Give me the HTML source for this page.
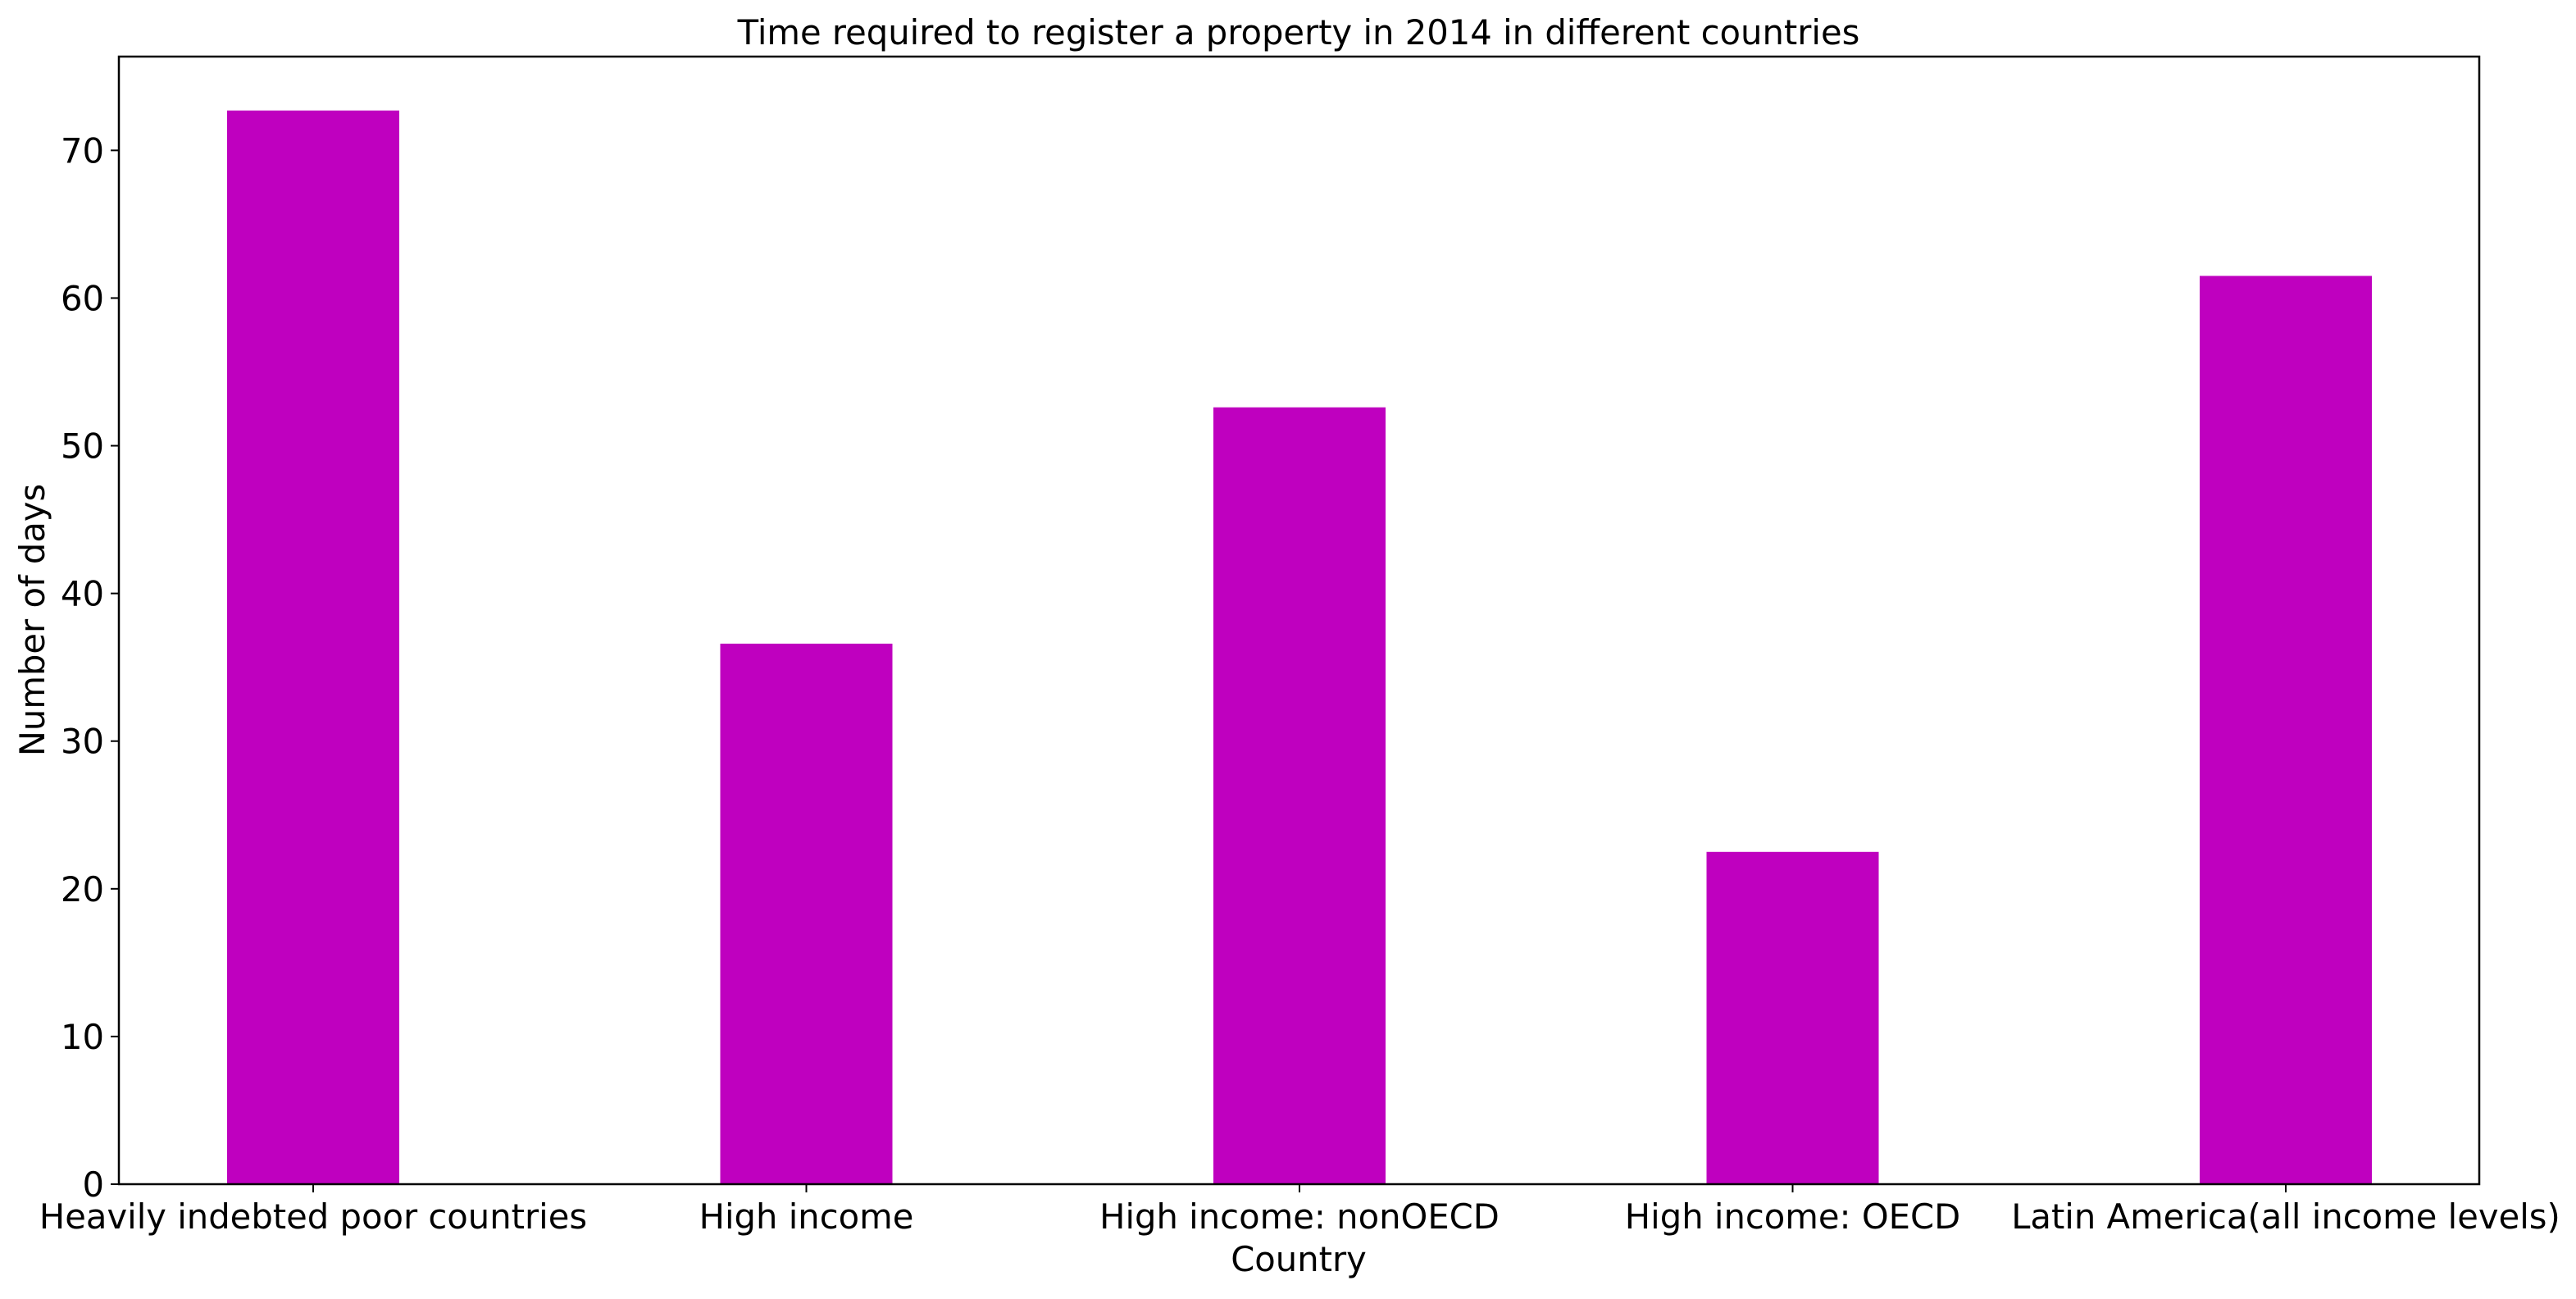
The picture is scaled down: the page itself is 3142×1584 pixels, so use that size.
<!DOCTYPE html>
<html><head><meta charset="utf-8"><style>
html,body{margin:0;padding:0;background:#fff;}
svg text{font-family:"DejaVu Sans","Liberation Sans",sans-serif;fill:#000;}
</style></head><body>
<svg id="chart" width="3142" height="1579" xmlns="http://www.w3.org/2000/svg">
<rect width="3142" height="1579" fill="#fff"/>
<g id="bars"></g><g id="yticks"></g><g id="xticks"></g>
<rect x="145" y="69" width="2879" height="1375" fill="none" stroke="#000" stroke-width="2.5"/>
<text x="1584" y="54" font-size="41.7" text-anchor="middle">Time required to register a property in 2014 in different countries</text>
<text x="1584" y="1550" font-size="41.7" text-anchor="middle">Country</text>
<text transform="translate(54,756) rotate(-90)" font-size="41.7" text-anchor="middle">Number of days</text>
</svg>
<script>
const categories=["Heavily indebted poor countries","High income","High income: nonOECD","High income: OECD","Latin America(all income levels)"];
const values=[72.7,36.6,52.6,22.5,61.5];
const yTicks=[0,10,20,30,40,50,60,70];
const NS="http://www.w3.org/2000/svg";
const plotLeft=145,plotBottom=1444,plotTop=69,yMax=76.35;
function yScale(v){return plotBottom-(v/yMax)*(plotBottom-plotTop);}
function xScale(i){return 382+i*601.5;}
const barW=210;
const bars=document.getElementById('bars');
values.forEach((v,i)=>{
  const r=document.createElementNS(NS,'rect');
  r.setAttribute('x',xScale(i)-barW/2);
  r.setAttribute('y',yScale(v));
  r.setAttribute('width',barW);
  r.setAttribute('height',plotBottom-yScale(v));
  r.setAttribute('fill','#bf00bf');
  
  
  bars.appendChild(r);
});
const yt=document.getElementById('yticks');
yTicks.forEach(t=>{
  const y=yScale(t);
  const l=document.createElementNS(NS,'line');
  l.setAttribute('x1',plotLeft-10);l.setAttribute('x2',plotLeft);
  l.setAttribute('y1',y);l.setAttribute('y2',y);
  l.setAttribute('stroke','#000');l.setAttribute('stroke-width','2');
  
  
  yt.appendChild(l);
  const tx=document.createElementNS(NS,'text');
  tx.setAttribute('x',plotLeft-18);tx.setAttribute('y',y+15);
  tx.setAttribute('font-size','41.7');tx.setAttribute('text-anchor','end');
  tx.textContent=t;
  
  
  yt.appendChild(tx);
});
const xt=document.getElementById('xticks');
categories.forEach((c,i)=>{
  const x=xScale(i);
  const l=document.createElementNS(NS,'line');
  l.setAttribute('x1',x);l.setAttribute('x2',x);
  l.setAttribute('y1',plotBottom);l.setAttribute('y2',plotBottom+10);
  l.setAttribute('stroke','#000');l.setAttribute('stroke-width','2');
  
  
  xt.appendChild(l);
  const tx=document.createElementNS(NS,'text');
  tx.setAttribute('x',x);tx.setAttribute('y',1498);
  tx.setAttribute('font-size','41.7');tx.setAttribute('text-anchor','middle');
  tx.textContent=c;
  
  
  xt.appendChild(tx);
});
</script>
</body></html>
